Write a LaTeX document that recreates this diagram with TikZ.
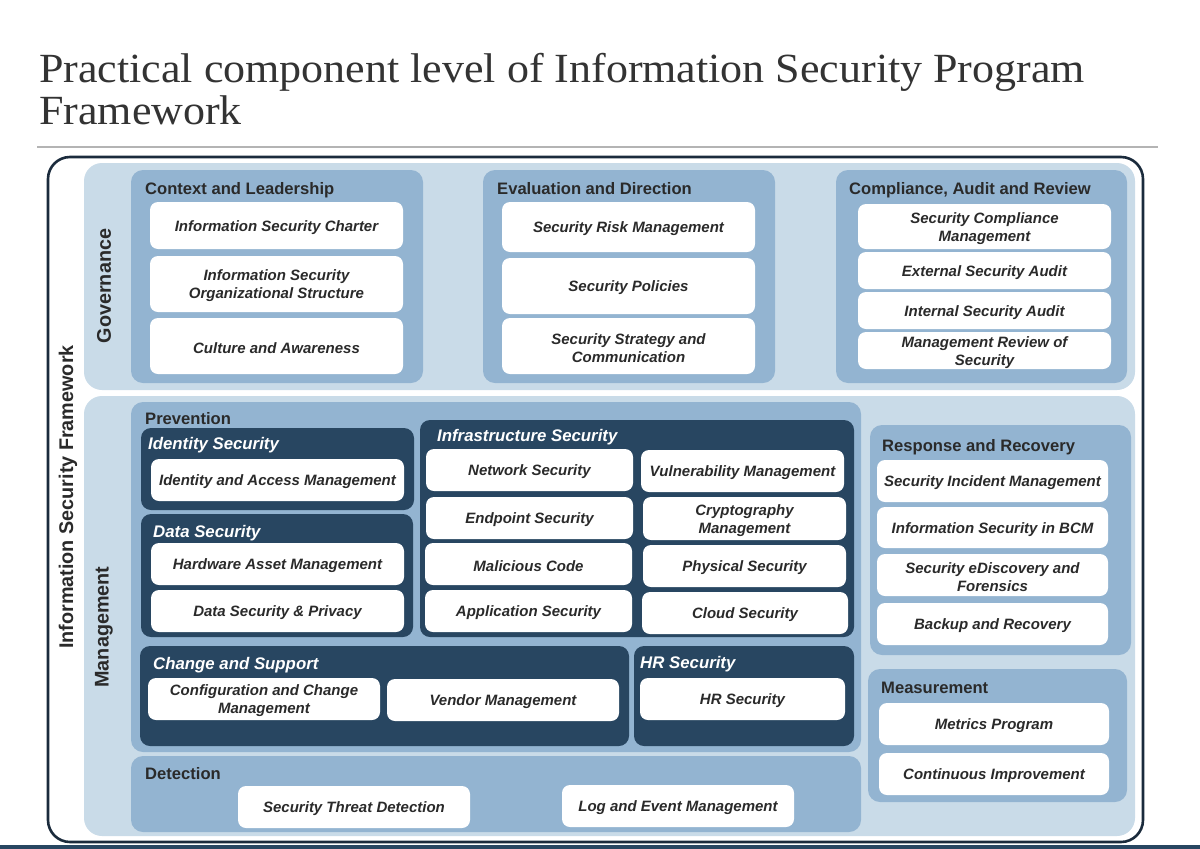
\documentclass[tikz,border=0pt]{standalone}
\usepackage{fontspec}
\setmainfont{Liberation Sans}
\newfontfamily\titlefont[FakeStretch=1.06]{Liberation Serif}
\definecolor{lightp}{HTML}{C9DBE8}
\definecolor{midp}{HTML}{93B4D1}
\definecolor{darkp}{HTML}{284661}
\definecolor{framec}{HTML}{1B2B3C}
\definecolor{txt}{HTML}{2A2A2A}
\definecolor{ttxt}{HTML}{333333}
\definecolor{rulec}{HTML}{B4B4B4}
\tikzset{
  panel/.style={fill=lightp, draw=none, rounded corners=18pt, inner sep=0pt, outer sep=0pt},
  grp/.style={fill=midp, draw=none, rounded corners=12pt, inner sep=0pt, outer sep=0pt},
  dgrp/.style={fill=darkp, draw=none, rounded corners=10pt, inner sep=0pt, outer sep=0pt},
  wbox/.style={fill=white, draw=none, rounded corners=8pt, inner sep=0pt, outer sep=0pt},
  wtext/.style={inner sep=0pt, align=center, text=txt, font=\fontsize{15}{18}\selectfont\bfseries\itshape},
  gtitle/.style={anchor=base west, inner sep=0pt, text=txt, font=\fontsize{16.6}{19}\selectfont\bfseries},
  dtitle/.style={anchor=base west, inner sep=0pt, text=white, font=\fontsize{16.8}{19}\selectfont\bfseries\itshape},
  vlabel/.style={rotate=90, inner sep=0pt, text=txt, font=\fontsize{19.8}{22}\selectfont\bfseries},
}
\newcommand\bx[7]{\node[#1, minimum width={(#5-#3)*1pt}, minimum height={(#6-#4)*1pt}] (#2) at ({(#3+#5)/2},{(#4+#6)/2}) {};}
\newcommand\wb[6]{\bx{wbox}{#1}{#2}{#3}{#4}{#5}{}\node[wtext] (#1-t) at ([yshift=-2pt]#1.center) {#6};}
\begin{document}
\begin{tikzpicture}[x=1pt,y=-1pt]
\useasboundingbox[fill=white] (0,0) rectangle (1200,849);
% title
\node[anchor=base west, inner sep=0pt, text=ttxt, font=\fontsize{41.5}{44}\selectfont\titlefont] (title) at (39,82) {Practical component level of Information Security Program};
\node[anchor=base west, inner sep=0pt, text=ttxt, font=\fontsize{41.5}{44}\selectfont\titlefont] (title2) at (39,124) {Framework};
\draw[rulec, line width=2.5pt] (37,147) coordinate (r1) -- (1158,147) coordinate (r2);
% bottom strip
\fill[darkp] (0,845) rectangle (1200,849);
% outer frame
\bx{draw=framec, line width=2.6pt, rounded corners=22pt, inner sep=0pt, outer sep=0pt}{frame}{48}{157}{1143}{842}{}
\node[vlabel] (isf) at (68,497) {Information Security Framework};
% panels
\bx{panel}{gov}{84}{163}{1135}{390}{}
\bx{panel}{mgmt}{84}{396}{1135}{836}{}
\node[vlabel] (govl) at (104,286) {Governance};
\node[vlabel] (mgl) at (104,627) {Management};
% ---- Governance groups
\bx{grp}{ctx}{131}{170}{423}{383}{}
\node[gtitle] (ctxt) at (145,194) {Context and Leadership};
\wb{c1}{150}{202}{403}{249}{Information Security Charter}
\wb{c2}{150}{256}{403}{312}{Information Security\\Organizational Structure}
\wb{c3}{150}{318}{403}{374}{Culture and Awareness}
\bx{grp}{eva}{483}{170}{775}{383}{}
\node[gtitle] (evat) at (497,194) {Evaluation and Direction};
\wb{e1}{502}{202}{755}{252}{Security Risk Management}
\wb{e2}{502}{258}{755}{314}{Security Policies}
\wb{e3}{502}{318}{755}{374}{Security Strategy and\\Communication}
\bx{grp}{car}{836}{170}{1127}{383}{}
\node[gtitle] (cart) at (849,194) {Compliance, Audit and Review};
\wb{a1}{858}{204}{1111}{249}{Security Compliance\\Management}
\wb{a2}{858}{252}{1111}{289}{External Security Audit}
\wb{a3}{858}{292}{1111}{329}{Internal Security Audit}
\wb{a4}{858}{332}{1111}{369}{Management Review of\\Security}
% ---- Management: Prevention
\bx{grp}{prev}{131}{402}{861}{752}{}
\node[gtitle] (prevt) at (145,424) {Prevention};
\bx{dgrp}{ids}{141}{428}{414}{510}{}
\node[dtitle] (idst) at (148,449) {Identity Security};
\wb{i1}{151}{459}{404}{501}{Identity and Access Management}
\bx{dgrp}{dat}{141}{514}{413}{637}{}
\node[dtitle] (datt) at (153,537) {Data Security};
\wb{d1}{151}{543}{404}{585}{Hardware Asset Management}
\wb{d2}{151}{590}{404}{632}{Data Security \& Privacy}
\bx{dgrp}{inf}{420}{420}{854}{637}{}
\node[dtitle] (inft) at (437,441) {Infrastructure Security};
\wb{n1}{426}{449}{633}{491}{Network Security}
\wb{n2}{641}{450}{844}{492}{Vulnerability Management}
\wb{n3}{426}{497}{633}{539}{Endpoint Security}
\wb{n4}{643}{497}{846}{540}{Cryptography\\Management}
\wb{n5}{425}{543}{632}{585}{Malicious Code}
\wb{n6}{643}{545}{846}{587}{Physical Security}
\wb{n7}{425}{590}{632}{632}{Application Security}
\wb{n8}{642}{592}{848}{634}{Cloud Security}
\bx{dgrp}{chg}{140}{646}{629}{746}{}
\node[dtitle] (chgt) at (153,669) {Change and Support};
\wb{s1}{148}{678}{380}{720}{Configuration and Change\\Management}
\wb{s2}{387}{679}{619}{721}{Vendor Management}
\bx{dgrp}{hr}{634}{646}{854}{746}{}
\node[dtitle] (hrt) at (640,668) {HR Security};
\wb{h1}{640}{678}{845}{720}{HR Security}
% Detection
\bx{grp}{det}{131}{756}{861}{832}{}
\node[gtitle] (dett) at (145,779) {Detection};
\wb{t1}{238}{786}{470}{828}{Security Threat Detection}
\wb{t2}{562}{785}{794}{827}{Log and Event Management}
% Response and Recovery
\bx{grp}{rr}{870}{425}{1131}{655}{}
\node[gtitle] (rrt) at (882,451) {Response and Recovery};
\wb{r1b}{877}{460}{1108}{502}{Security Incident Management}
\wb{r2b}{877}{507}{1108}{548}{Information Security in BCM}
\wb{r3b}{877}{554}{1108}{596}{Security eDiscovery and\\Forensics}
\wb{r4b}{877}{603}{1108}{645}{Backup and Recovery}
% Measurement
\bx{grp}{mea}{868}{669}{1127}{802}{}
\node[gtitle] (meat) at (881,693) {Measurement};
\wb{m1}{879}{703}{1109}{745}{Metrics Program}
\wb{m2}{879}{753}{1109}{795}{Continuous Improvement}
\end{tikzpicture}
\end{document}
